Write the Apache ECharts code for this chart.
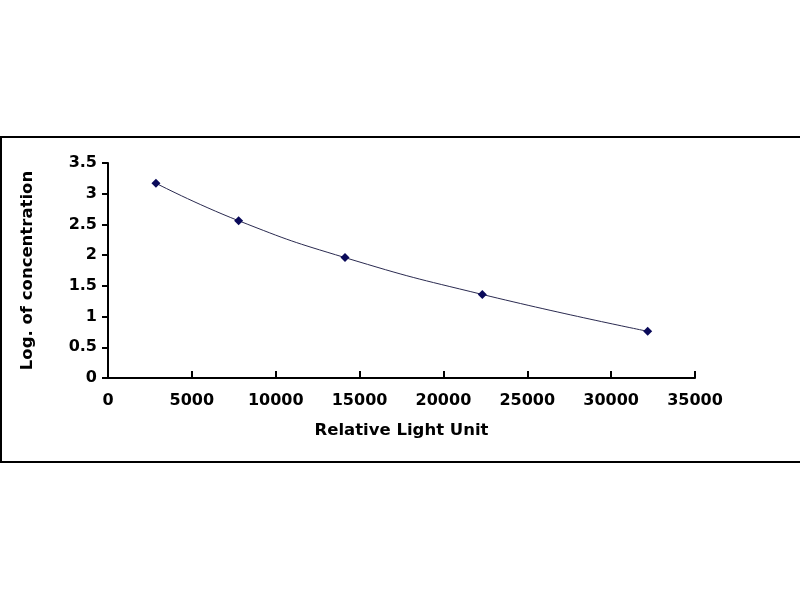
<!DOCTYPE html>
<html>
<head>
<meta charset="utf-8">
<script src="https://cdn.jsdelivr.net/npm/echarts@6/dist/echarts.min.js"></script>
<style>
  html, body { margin: 0; padding: 0; background: #fff; }
  #chart { width: 800px; height: 600px; }
</style>
</head>
<body>
<div id="chart"></div>
<script>
// 标准曲线数据
var lightUnit = [2860, 7790, 14130, 22320, 32180];
var logConc = [3.17, 2.56, 1.96, 1.36, 0.76];
var xTitle = "Relative Light Unit";
var yTitle = "Log. of concentration";

var points = [];
for (var i = 0; i < lightUnit.length; i++) {
  points.push([lightUnit[i], logConc[i]]);
}

var font = "DejaVu Sans, Arial, sans-serif";
var chart = echarts.init(document.getElementById("chart"));

var option = {
  animation: false,
  backgroundColor: "#fff",
  grid: {
    left: 108,
    right: 105,
    top: 163,
    bottom: 222
  },
  // 外框
  graphic: [
    {
      type: "rect",
      shape: { x: 1, y: 137, width: 820, height: 325 },
      style: { fill: "none", stroke: "#000", lineWidth: 2 },
      silent: true
    }
  ],
  xAxis: {
    type: "value",
    min: 0,
    max: 35000,
    interval: 5000,
    name: xTitle,
    nameLocation: "middle",
    nameGap: 44,
    nameTextStyle: { fontFamily: font, fontWeight: "bold", fontSize: 16.5, color: "#000" },
    splitLine: { show: false },
    axisLine: { lineStyle: { color: "#000", width: 2 } },
    axisTick: { inside: true, length: 7, lineStyle: { color: "#000", width: 2 } },
    axisLabel: {
      fontFamily: font, fontWeight: "bold", fontSize: 16, color: "#000", margin: 15,
      formatter: function (v) { return String(v); }
    }
  },
  yAxis: {
    type: "value",
    min: 0,
    max: 3.5,
    interval: 0.5,
    name: yTitle,
    nameLocation: "middle",
    nameGap: 72,
    nameRotate: 90,
    nameTextStyle: { fontFamily: font, fontWeight: "bold", fontSize: 16.5, color: "#000" },
    splitLine: { show: false },
    axisLine: { show: true, lineStyle: { color: "#000", width: 2 } },
    axisTick: { show: true, length: 6, lineStyle: { color: "#000", width: 2 } },
    axisLabel: { fontFamily: font, fontWeight: "bold", fontSize: 16, color: "#000", margin: 11 }
  },
  series: [
    {
      type: "line",
      data: points,
      smooth: true,
      symbol: "diamond",
      symbolSize: 9,
      itemStyle: { color: "#0a0a5a" },
      lineStyle: { color: "#2a2a50", width: 1 }
    }
  ]
};
chart.setOption(option);
</script>
</body>
</html>
